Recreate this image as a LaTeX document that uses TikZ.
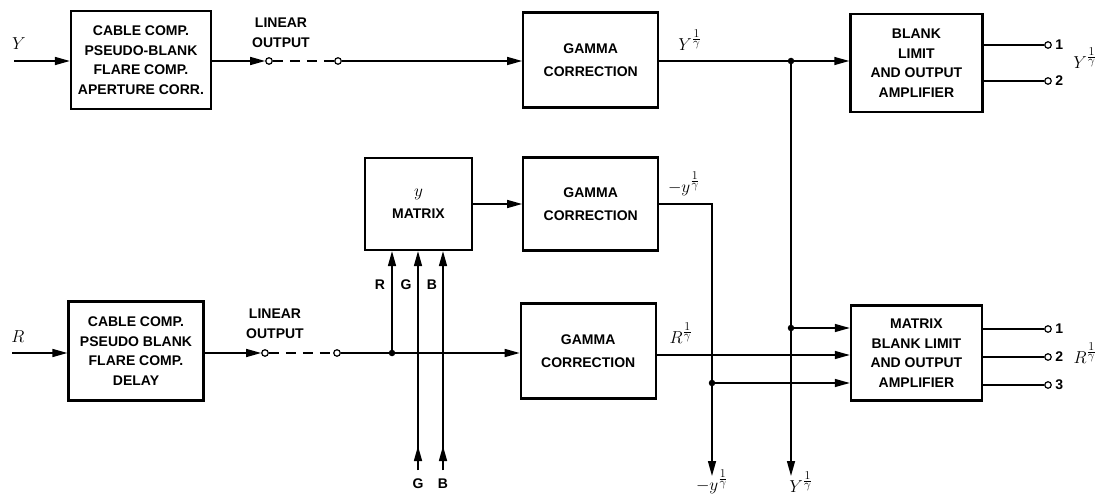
\documentclass[tikz,border=0pt]{standalone}
\usepackage{fontspec}
\setmainfont{Liberation Sans}
\usetikzlibrary{arrows.meta,positioning}

\begin{document}
\begin{tikzpicture}[x=1pt, y=-1pt,
    font=\fontsize{14}{19.5}\selectfont\bfseries,
    blk/.style={draw, line width=2.2pt, align=center, inner sep=0pt},
    gam/.style={blk, minimum width=135pt, minimum height=95pt},
    arr/.style={-{Triangle[length=15pt,width=8pt]}, line width=1.5pt},
    wire/.style={line width=1.5pt},
    brk/.style={wire, dash pattern=on 10pt off 7pt},
    term/.style={circle, draw, line width=1.2pt, fill=white, inner sep=0pt, minimum size=6.5pt,
                 label distance=2pt, every label/.style={inner sep=0pt}},
    jdot/.style={circle, fill, inner sep=0pt, minimum size=6.5pt},
    mlab/.style={font=\fontsize{17}{20}\selectfont, inner sep=0pt}
]
\useasboundingbox (0,0) rectangle (1100,494);

\node[blk, minimum width=140pt, minimum height=98pt] (ycab) at (141,60) {CABLE COMP.\\PSEUDO-BLANK\\FLARE COMP.\\APERTURE CORR.};
\node[gam, right=310pt of ycab] (gam1) {GAMMA\\[3pt]CORRECTION};
\node[blk, minimum width=132pt, minimum height=98pt, right=190pt of gam1, yshift=-3pt] (blank) {BLANK\\LIMIT\\AND OUTPUT\\AMPLIFIER};

\node[blk, minimum width=107pt, minimum height=92pt] (ymat) at (418.5,204) {{\fontsize{17}{20}\selectfont$y$}\\[2pt]MATRIX};
\node[gam, minimum height=93pt, right=49pt of ymat] (gam2) {GAMMA\\[3pt]CORRECTION};

\node[blk, minimum width=135pt, minimum height=99pt] (rcab) at (136,351) {CABLE COMP.\\PSEUDO BLANK\\FLARE COMP.\\DELAY};
\node[gam, right=315pt of rcab] (gam3) {GAMMA\\[3pt]CORRECTION};
\node[blk, minimum width=131pt, minimum height=95pt, right=193pt of gam3, yshift=-2pt] (mbl) {MATRIX\\BLANK LIMIT\\AND OUTPUT\\AMPLIFIER};

\coordinate (yin) at (14,61);
\coordinate (rin) at (12,353);
\coordinate (gb) at (418,470);
\coordinate (bb) at (443,470);
\coordinate (nybot) at (712,476);
\coordinate (ybot) at (791,476);
\coordinate (rg) at ([yshift=-4pt]gam3.east);

\node[term] (c1) at (269,61) {};
\node[term] (c2) at (338,61) {};
\node[term] (c3) at (265,353) {};
\node[term] (c4) at (337,353) {};
\node[jdot] (d1) at (791,61) {};
\node[jdot] (d2) at (791,328) {};
\node[jdot] (d3) at (392,353) {};
\node[jdot] (d4) at (712,383) {};
\node[term, label=right:1] (p1) at (1048,45) {};
\node[term, label=right:2] (p2) at (1048,81) {};
\node[term, label=right:1] (q1) at (1048,329) {};
\node[term, label=right:2] (q2) at (1048,357) {};
\node[term, label=right:3] (q3) at (1048,385) {};

\node[mlab] (ylab) at (19,44) {$Y$};
\node[align=center] (lin1) at (281,33) {LINEAR\\OUTPUT};
\node[mlab] (ygam) at (690,40) {$Y^{\frac{\scriptstyle 1}{\scriptstyle\gamma}}$};
\node[mlab] (yout) at (1085,58) {$Y^{\frac{\scriptstyle 1}{\scriptstyle\gamma}}$};
\node[mlab] (nylab) at (684,184) {$-y^{\frac{\scriptstyle 1}{\scriptstyle\gamma}}$};
\node (rlab) at (380,285) {R};
\node (glab) at (406,285) {G};
\node (blab) at (432,285) {B};
\node[mlab] (rilab) at (18,337) {$R$};
\node[align=center] (lin2) at (275,324) {LINEAR\\OUTPUT};
\node[mlab] (rglab) at (681,333) {$R^{\frac{\scriptstyle 1}{\scriptstyle\gamma}}$};
\node[mlab] (rout) at (1085,353) {$R^{\frac{\scriptstyle 1}{\scriptstyle\gamma}}$};
\node (gblab) at (418,484) {G};
\node (bblab) at (443,484) {B};
\node[mlab] (nyblab) at (712,482) {$-y^{\frac{\scriptstyle 1}{\scriptstyle\gamma}}$};
\node[mlab] (yblab) at (801,482) {$Y^{\frac{\scriptstyle 1}{\scriptstyle\gamma}}$};

\draw[arr] (yin) -- (yin -| ycab.west);
\draw[arr] (ycab.east |- c1) -- (c1);
\draw[brk] (c1) -- (c2);
\draw[arr] (c2) -- (c2 -| gam1.west);
\draw[wire] (gam1.east |- d1) -- (d1);
\draw[arr] (d1) -- (d1 -| blank.west);
\draw[wire] (p1 -| blank.east) -- (p1);
\draw[wire] (p2 -| blank.east) -- (p2);
\draw[arr] (d1) -- (ybot);

\draw[arr] (ymat) -- (gam2);
\draw[arr] (gam2.east) -| (nybot);

\draw[arr] (rin) -- (rin -| rcab.west);
\draw[arr] (rcab.east |- c3) -- (c3);
\draw[brk] (c3) -- (c4);
\draw[wire] (c4) -- (d3);
\draw[arr] (d3) -- (d3 -| gam3.west);
\draw[arr] (d3) -- (d3 |- ymat.south);
\draw[arr] (gb) -- (gb |- ymat.south);
\draw[arr] (gb) -- ++(0,-24);
\draw[arr] (bb) -- (bb |- ymat.south);
\draw[arr] (bb) -- ++(0,-24);
\draw[arr] (rg) -- (rg -| mbl.west);
\draw[arr] (d2) -- (d2 -| mbl.west);
\draw[arr] (d4) -- (d4 -| mbl.west);
\draw[wire] (q1 -| mbl.east) -- (q1);
\draw[wire] (q2 -| mbl.east) -- (q2);
\draw[wire] (q3 -| mbl.east) -- (q3);
\end{tikzpicture}
\end{document}
